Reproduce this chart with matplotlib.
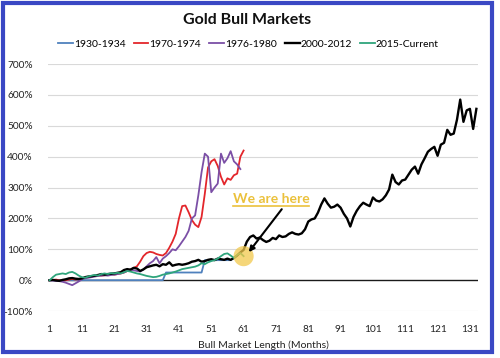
import matplotlib
matplotlib.use("Agg")
import matplotlib.pyplot as plt
from matplotlib.patches import Rectangle
import numpy as np

plt.rcParams['font.family'] = ['Lato', 'DejaVu Sans']

# % gain since start of each bull market, one value per month
gold_1930 = [0] * 36 + [25] * 12 + [65] * 9
gold_1970 = [0, 1, 2, 0, -2, 0, 2, 4, 2, 3,
             5, 8, 10, 12, 14, 15, 15, 16, 18, 20,
             18, 20, 22, 25, 30, 35, 40, 45, 60, 78,
             88, 92, 90, 85, 82, 80, 88, 105, 125, 150,
             200, 240, 242, 220, 195, 180, 172, 205, 280, 365,
             385, 392, 370, 335, 310, 330, 325, 340, 345, 400,
             420]
gold_1976 = [0, -1, -2, -3, -5, -8, -12, -16, -10, -4,
             3, 6, 8, 10, 12, 14, 15, 16, 15, 17,
             18, 20, 22, 25, 30, 35, 32, 30, 28, 35,
             45, 55, 62, 75, 55, 70, 78, 88, 100, 97,
             110, 125, 140, 160, 200, 210, 275, 350, 410, 400,
             285, 300, 313, 410, 380, 395, 418, 385, 375, 360]
gold_2000 = [0, 1, -1, -2, 1, 3, 6, 7, 5, 4,
             6, 10, 12, 13, 15, 17, 20, 18, 20, 21,
             22, 24, 26, 33, 36, 34, 40, 38, 30, 35,
             42, 45, 48, 50, 45, 52, 50, 58, 47, 50,
             52, 50, 52, 55, 60, 62, 66, 60, 62, 66,
             68, 65, 70, 68, 66, 70, 66, 72, 80, 90,
             98, 125, 140, 145, 135, 138, 130, 124, 128, 137,
             133, 145, 140, 142, 150, 155, 150, 148, 152, 165,
             190, 197, 200, 219, 245, 265, 248, 235, 238, 245,
             235, 215, 200, 174, 205, 225, 240, 251, 245, 240,
             268, 258, 255, 262, 275, 294, 342, 318, 310, 323,
             326, 342, 358, 368, 345, 375, 395, 416, 425, 432,
             403, 439, 445, 487, 471, 475, 520, 585, 513, 550,
             555, 490, 555]
gold_2015 = [0, 10, 18, 20, 22, 20, 25, 27, 22, 15,
             10, 8, 12, 15, 17, 15, 20, 22, 20, 23,
             22, 24, 22, 26, 30, 28, 25, 22, 20, 17,
             14, 12, 10, 11, 14, 18, 20, 22, 25, 28,
             32, 36, 38, 40, 42, 44, 48, 55, 52, 58,
             62, 65, 70, 78, 85, 87, 80, 72, 82, 88,
             78]

labels = ['1930-1934', '1970-1974', '1976-1980', '2000-2012', '2015-Current']
colors = ['#4F81BD', '#E3262B', '#7B4FA6', '#000000', '#2FA57C']
series = [gold_1930, gold_1970, gold_1976, gold_2000, gold_2015]
yticks = [-100, 0, 100, 200, 300, 400, 500, 600, 700]
xticks = list(range(1, 132, 10))

fig = plt.figure(figsize=(5.0, 3.58), dpi=100)
ax = fig.add_axes([0.096, 0.131, 0.86, 0.69])

for y in yticks:
    if y != 0:
        ax.axhline(y, color='#D9D9D9', lw=0.8, zorder=0)
ax.axhline(0, color='#1a1a1a', lw=1.0, zorder=1)

for s, lab, c in zip(series, labels, colors):
    m = np.arange(1, len(s) + 1)
    lw = 1.7 if c == '#000000' else 1.3
    ax.plot(m, s, color=c, lw=lw, label=lab, zorder=2)

# "we are here" marker at end of current bull market
ax.scatter([len(gold_2015)], [gold_2015[-1]], s=210, color='#F2C94C',
           alpha=0.75, edgecolors='none', zorder=3)
ax.annotate('', xy=(62.6, 91), xytext=(72.8, 230),
            arrowprops=dict(arrowstyle='-|>', color='black', lw=1.5,
                            mutation_scale=8, shrinkA=0, shrinkB=0),
            zorder=4)
txt = ax.text(69.5, 263, 'We are here', color='#EBC13C', fontsize=10,
              fontweight='bold', ha='center', va='center')

ax.set_xlim(0.5, 133.5)
ax.set_ylim(-100, 700)
ax.set_yticks(yticks)
ax.set_yticklabels([f'{v}%' for v in yticks])
ax.set_xticks(xticks)
ax.tick_params(axis='both', length=0, labelsize=7.3, colors='#222222')
ax.tick_params(axis='y', pad=11)
ax.tick_params(axis='x', pad=10)
for sp in ax.spines.values():
    sp.set_visible(False)
ax.set_xlabel('Bull Market Length (Months)', fontsize=7.5, color='#222222',
              labelpad=5)

fig.suptitle('Gold Bull Markets', x=0.494, y=0.963, fontsize=11.5,
             fontweight='bold', color='#111111')
fig.legend(loc='center', bbox_to_anchor=(0.497, 0.877), ncol=5,
           frameon=False, fontsize=7.5, handlelength=1.4, handletextpad=0.1,
           columnspacing=0.8, borderaxespad=0)

# underline the annotation text
fig.canvas.draw()
bb = txt.get_window_extent().transformed(ax.transData.inverted())
ax.plot([bb.x0, bb.x1], [bb.y0 - 3, bb.y0 - 3], color='#EBC13C', lw=1.2,
        zorder=4)

fig.patches.append(Rectangle((0.006, 0.017), 0.978, 0.975,
                             transform=fig.transFigure, fill=False,
                             edgecolor='#3A48C4', lw=3))

fig.savefig('out.png', dpi=100)
